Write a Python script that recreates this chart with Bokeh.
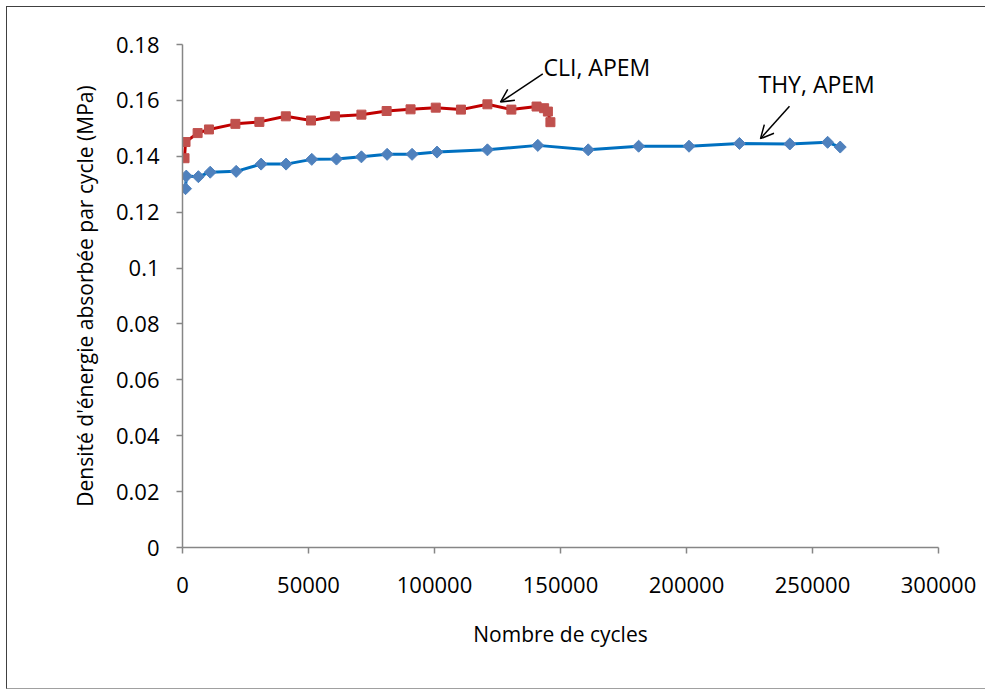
from bokeh.plotting import figure
from bokeh.models import FixedTicker, Arrow, OpenHead, Label
from bokeh.embed import file_html
from bokeh.resources import INLINE

# ---- data ----
cli_cycles = [800, 1200, 6000, 10500, 21000, 30500, 41000, 51000, 60500, 71000,
              81000, 90500, 100500, 110500, 121000, 130500, 140500, 143500, 145000, 146000]
cli_energy = [0.1393, 0.1451, 0.1483, 0.1496, 0.1516, 0.1523, 0.1543, 0.1528, 0.1543, 0.1549,
              0.1562, 0.1568, 0.1574, 0.1567, 0.1586, 0.1567, 0.1578, 0.1572, 0.1560, 0.1522]

thy_cycles = [1200, 1500, 6300, 11000, 21300, 31200, 41100, 51300, 61100, 71000, 81200,
              91100, 101000, 121000, 141000, 161000, 181000, 201000, 221000, 241000, 256000, 261000]
thy_energy = [0.1284, 0.1329, 0.1327, 0.1343, 0.1346, 0.1372, 0.1372, 0.1389, 0.1390, 0.1398, 0.1407,
              0.1407, 0.1415, 0.1423, 0.1439, 0.1423, 0.1436, 0.1436, 0.1446, 0.1444, 0.1450, 0.1433]

x_ticks = [0, 50000, 100000, 150000, 200000, 250000, 300000]
x_tick_labels = ["0", "50000", "100000", "150000", "200000", "250000", "300000"]
y_ticks = [0, 0.02, 0.04, 0.06, 0.08, 0.1, 0.12, 0.14, 0.16, 0.18]
y_tick_labels = ["0", "0.02", "0.04", "0.06", "0.08", "0.1", "0.12", "0.14", "0.16", "0.18"]

x_title = "Nombre de cycles"
y_title = "Densité d'énergie absorbée par cycle (MPa)"
cli_label = "CLI, APEM"
thy_label = "THY, APEM"

FONT = "Open Sans"
AXIS_GRAY = "#868686"

p = figure(width=979, height=683, x_range=(0, 300000), y_range=(0, 0.18),
           output_backend="svg", toolbar_location=None,
           min_border_left=175, min_border_right=48, min_border_top=37, min_border_bottom=143)
p.styles = {"margin-left": "6px", "margin-top": "6px",
            "border-left": "1px solid #404040", "border-top": "1px solid #404040",
            "border-bottom": "1px solid #a0a0a0"}
p.outline_line_color = None
p.xgrid.visible = False
p.ygrid.visible = False
p.background_fill_color = "white"
p.border_fill_color = "white"

p.xaxis.ticker = FixedTicker(ticks=x_ticks)
p.yaxis.ticker = FixedTicker(ticks=y_ticks)
p.xaxis.major_label_overrides = {t: l for t, l in zip(x_ticks, x_tick_labels)}
p.yaxis.major_label_overrides = {t: l for t, l in zip(y_ticks, y_tick_labels)}
p.xaxis.axis_label = x_title
p.yaxis.axis_label = y_title

for ax in (p.xaxis, p.yaxis):
    ax.axis_line_color = AXIS_GRAY
    ax.axis_line_width = 1.5
    ax.major_tick_line_color = AXIS_GRAY
    ax.major_tick_line_width = 1.5
    ax.major_tick_out = 6
    ax.major_tick_in = 0
    ax.minor_tick_line_color = None
    ax.major_label_text_font = FONT
    ax.major_label_text_font_size = "22px"
    ax.major_label_text_color = "black"
    ax.axis_label_text_font = FONT
    ax.axis_label_text_font_size = "21px"
    ax.axis_label_text_font_style = "normal"
    ax.axis_label_text_color = "black"

p.xaxis.major_label_standoff = 23
p.yaxis.major_label_standoff = 17
p.xaxis.axis_label_standoff = 24
p.yaxis.axis_label_standoff = 14

# series
p.line(thy_cycles, thy_energy, line_color="#0070C0", line_width=3)
p.scatter(thy_cycles, thy_energy, marker="square", angle=0.785398, size=8.5,
          fill_color="#4F81BD", line_color="#4F81BD")
p.line(cli_cycles, cli_energy, line_color="#C00000", line_width=3)
p.scatter(cli_cycles, cli_energy, marker="square", size=9,
          fill_color="#C0504D", line_color="#C0504D")

# annotations
p.add_layout(Arrow(end=OpenHead(size=13, line_width=1.5, line_color="black"),
                   x_start=142976, y_start=0.1695, x_end=126190, y_end=0.1594,
                   line_width=1.5, line_color="black"))
p.add_layout(Arrow(end=OpenHead(size=13, line_width=1.5, line_color="black"),
                   x_start=240873, y_start=0.1579, x_end=229365, y_end=0.1463,
                   line_width=1.5, line_color="black"))
p.add_layout(Label(x=143254, y=0.1718, text=cli_label, text_font=FONT,
                   text_font_size="23px", text_color="black", text_baseline="alphabetic"))
p.add_layout(Label(x=228571, y=0.1657, text=thy_label, text_font=FONT,
                   text_font_size="23px", text_color="black", text_baseline="alphabetic"))

open("out.html", "w").write(file_html(p, INLINE))
